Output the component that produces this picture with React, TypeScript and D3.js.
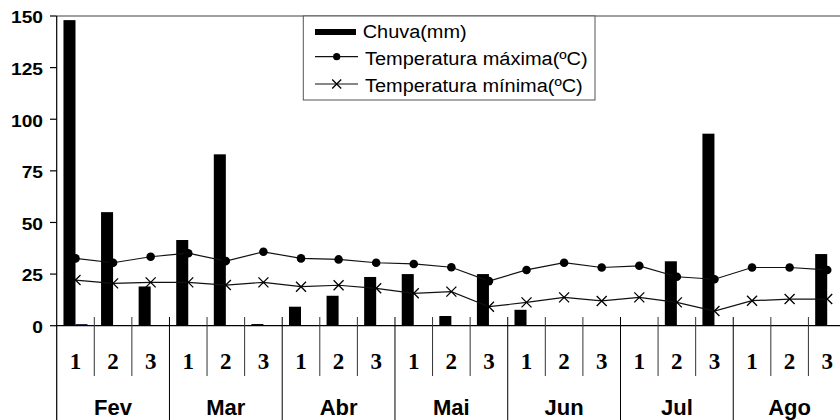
import React from "react";
import * as d3 from "d3";

const months = ["Fev", "Mar", "Abr", "Mai", "Jun", "Jul", "Ago"];
const decades = ["1", "2", "3"];
const chuva = [148, 55, 19, 41.5, 83, 0.8, 9.2, 14.5, 23.6, 25, 4.7, 25, 7.7, 0, 0, 0, 31.2, 93, 0, 0, 34.7];
const chuvaExtra = [0.8, 0, 0, 0, 0, 0, 0, 0, 0, 0, 0, 0, 0, 0, 0, 0, 0, 0, 0, 0, 0];
const tMax = [32.6, 30.5, 33.4, 35.1, 31.3, 35.8, 32.6, 32.1, 30.5, 29.9, 28.3, 21.6, 27, 30.5, 28.2, 29.0, 23.7, 22.5, 28.2, 28.2, 27];
const tMin = [22.1, 20.5, 21, 21, 19.7, 21, 18.9, 19.6, 18.1, 15.7, 16.5, 9.2, 11.3, 13.7, 12, 13.7, 11.3, 7.1, 12.1, 12.9, 12.9];
const yTicks = [0, 25, 50, 75, 100, 125, 150];
const legendLabels = ["Chuva(mm)", "Temperatura máxima(ºC)", "Temperatura mínima(ºC)"];

const W = 840;
const H = 420;

export default function App() {
  const cats = months.flatMap((m) => decades.map((d) => `${m}-${d}`));
  const x = d3.scaleBand<string>().domain(cats).range([56.7, 846]).padding(0);
  const bw = x.bandwidth();
  const xSub = d3.scaleBand<string>().domain(["a", "b"]).range([bw * 0.18, bw * 0.82]).padding(0);
  const y = d3.scaleLinear().domain([0, 150]).range([325.7, 16]);
  const cx = (i: number) => (x(cats[i]) as number) + bw / 2;

  const lineMax = d3.line<number>().x((_, i) => cx(i)).y((v) => y(v));
  const lineMin = d3.line<number>().x((_, i) => cx(i)).y((v) => y(v));

  const x0 = 56.7;
  const axisY = y(0);
  const sans = "'Liberation Sans', Arial, sans-serif";
  const serif = "'Liberation Serif', 'Times New Roman', serif";

  const xMark = (px: number, py: number, s: number, key: string) => (
    <path key={key} d={`M${px - s},${py - s}L${px + s},${py + s}M${px - s},${py + s}L${px + s},${py - s}`} stroke="#000" strokeWidth={1.3} fill="none" />
  );

  return (
    <svg width={W} height={H} style={{ position: "absolute", left: 0, top: 0, background: "#fff" }} xmlns="http://www.w3.org/2000/svg">
      <rect x={0} y={0} width={W} height={H} fill="#fff" />
      {/* top border */}
      <line x1={x0} x2={W} y1={y(150)} y2={y(150)} stroke="#808080" strokeWidth={1.5} />
      {/* bars */}
      {chuva.map((v, i) => (
        <rect key={`b${i}`} x={(x(cats[i]) as number) + (xSub("a") as number)} width={xSub.bandwidth()} y={y(v)} height={axisY - y(v)} fill="#000" />
      ))}
      {chuvaExtra.map((v, i) =>
        v > 0 ? (
          <rect key={`e${i}`} x={(x(cats[i]) as number) + (xSub("b") as number)} width={xSub.bandwidth()} y={y(v)} height={axisY - y(v)} fill="#22224a" />
        ) : null
      )}
      {/* lines */}
      <path d={lineMax(tMax) as string} fill="none" stroke="#111" strokeWidth={1.2} />
      <path d={lineMin(tMin) as string} fill="none" stroke="#111" strokeWidth={1.2} />
      {tMax.map((v, i) => (
        <circle key={`m${i}`} cx={cx(i)} cy={y(v)} r={4.3} fill="#000" />
      ))}
      {tMin.map((v, i) => xMark(cx(i), y(v), 5, `n${i}`))}
      {/* y axis */}
      <line x1={x0} x2={x0} y1={y(150)} y2={H} stroke="#000" strokeWidth={1.2} />
      {yTicks.map((t) => (
        <g key={`t${t}`}>
          <line x1={50} x2={x0} y1={y(t)} y2={y(t)} stroke="#000" strokeWidth={1.2} />
          <g transform={`translate(43,${y(t) + 7.3})`}>
            <text transform="scale(1.2,1)" textAnchor="end" fontFamily={sans} fontWeight="bold" fontSize={16} fill="#000">
              {t}
            </text>
          </g>
        </g>
      ))}
      {/* x axis */}
      <line x1={x0} x2={W} y1={axisY} y2={axisY} stroke="#000" strokeWidth={1.2} />
      {cats.map((c, i) => {
        if (i === 0) return null;
        const bx = x(c) as number;
        const isMonth = i % 3 === 0;
        return (
          <line key={`s${i}`} x1={bx} x2={bx} y1={317} y2={isMonth ? H : 376} stroke={isMonth ? "#000" : "#333"} strokeWidth={1} />
        );
      })}
      {cats.map((c, i) => (
        <text key={`d${i}`} x={cx(i)} y={369.3} textAnchor="middle" fontFamily={serif} fontWeight="bold" fontSize={23} fill="#000">
          {decades[i % 3]}
        </text>
      ))}
      {months.map((m, k) => (
        <text key={`mo${k}`} x={cx(k * 3 + 1)} y={415} textAnchor="middle" fontFamily={sans} fontWeight="bold" fontSize={22} fill="#000">
          {m}
        </text>
      ))}
      {/* legend */}
      <rect x={303.3} y={16} width={291.7} height={84} fill="#fff" stroke="#555" strokeWidth={1} />
      <rect x={315} y={29} width={41} height={6} fill="#000" />
      <text x={362.7} y={38} fontFamily={sans} fontSize={18} fill="#000" textLength={104} lengthAdjust="spacingAndGlyphs">
        {legendLabels[0]}
      </text>
      <line x1={315} x2={358} y1={56.7} y2={56.7} stroke="#111" strokeWidth={1.2} />
      <circle cx={336.7} cy={56.7} r={3.6} fill="#000" />
      <text x={365} y={64.5} fontFamily={sans} fontSize={18} fill="#000" textLength={222.7} lengthAdjust="spacingAndGlyphs">
        {legendLabels[1]}
      </text>
      <line x1={315} x2={358} y1={84} y2={84} stroke="#111" strokeWidth={1.2} />
      {xMark(336.7, 84, 4.5, "lx")}
      <text x={365} y={91.7} fontFamily={sans} fontSize={18} fill="#000" textLength={217.7} lengthAdjust="spacingAndGlyphs">
        {legendLabels[2]}
      </text>
    </svg>
  );
}
